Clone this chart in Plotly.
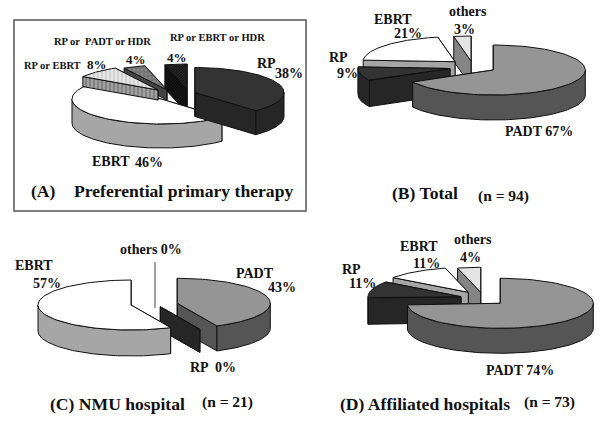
import numpy as np
import plotly.graph_objects as go

# percent of patients per therapy
a_labels = ["RP", "EBRT", "RP or EBRT", "RP or PADT or HDR", "RP or EBRT or HDR"]
a_values = [38, 46, 8, 4, 4]
b_labels = ["PADT", "RP", "EBRT", "others"]
b_values = [67, 9, 21, 3]
c_labels = ["PADT", "RP", "EBRT", "others"]
c_values = [43, 0, 57, 0]
d_labels = ["PADT", "RP", "EBRT", "others"]
d_values = [74, 11, 11, 4]

# colours
PADT = dict(top="#959595", side="#555555")
RP = dict(top="#333333", side="#262626")
EBRT = dict(top="#ffffff", side="#a6a6a6")
OTHERS = dict(top="#e4e4e4", side="#858585")

fig = go.Figure()


def add_poly(x, y, color, pattern=None):
    fig.add_trace(go.Scatter(
        x=x, y=y, mode="lines", fill="toself", fillcolor=color,
        fillpattern=pattern, line=dict(color="#111111", width=1),
        showlegend=False, hoverinfo="skip"))


def add_wedge(center, start, end, rx, ry, depth, style):
    cx, cy = center
    t = np.radians(np.linspace(start, end, 80))
    ax = cx + rx * np.sin(t)
    ay = cy - ry * np.cos(t)

    # the two cut faces
    for i in (-1, 0):
        add_poly([cx, ax[i], ax[i], cx, cx], [cy, ay[i], ay[i] + depth, cy + depth, cy],
                 style["side"], style.get("side_pattern"))

    # outer rim, only the part facing us
    lo, hi = max(start, 90), min(end, 270)
    if lo < hi:
        s = np.radians(np.linspace(lo, hi, 80))
        sx = cx + rx * np.sin(s)
        sy = cy - ry * np.cos(s)
        add_poly(list(sx) + list(sx[::-1]) + [sx[0]],
                 list(sy) + list(sy[::-1] + depth) + [sy[0]],
                 style.get("rim", style["side"]), style.get("side_pattern"))

    # top face
    if end > start:
        add_poly([cx] + list(ax) + [cx], [cy] + list(ay) + [cy],
                 style["top"], style.get("top_pattern"))


def add_pie(values, centers, styles, order, rx, ry, depths):
    edges = np.cumsum([0] + values) * 3.6
    for i in order:
        add_wedge(centers[i], edges[i], edges[i + 1], rx, ry, depths[i], styles[i])


# (A)
a_styles = [
    RP,
    EBRT,
    dict(top="#d8d8d8", side="#8c8c8c",
         top_pattern=dict(shape="|", fgcolor="#b4b4b4", bgcolor="#e6e6e6", size=4, solidity=0.4),
         side_pattern=dict(shape="|", fgcolor="#555555", bgcolor="#a0a0a0", size=4, solidity=0.4)),
    dict(top="#8a8a8a", side="#444444",
         top_pattern=dict(shape=".", fgcolor="#9c9c9c", bgcolor="#747474", size=4, solidity=0.3)),
    dict(top="#222222", side="#111111",
         top_pattern=dict(shape="x", fgcolor="#8c8c8c", bgcolor="#111111", size=2, solidity=0.3),
         side_pattern=dict(shape="x", fgcolor="#4c4c4c", bgcolor="#0a0a0a", size=2, solidity=0.3)),
]
add_pie(a_values, [(195, 92.5), (161, 99), (158, 90), (167, 90), (187, 89)], a_styles,
        [4, 3, 1, 2, 0], 89, 25, [24, 24, 10, 10, 24])

# (B)
add_pie(b_values, [(493.3, 70), (450, 68.5), (455, 61.7), (471, 61)], [PADT, RP, EBRT, OTHERS],
        [3, 2, 1, 0], 92, 25, [25, 26, 25, 25])

# (C)
add_pie(c_values, [(177.3, 303.3), (160.3, 306.7), (131, 305), (155, 307)], [PADT, RP, EBRT, OTHERS],
        [0, 1, 2], 93, 25, [25, 23, 26, 25])
# leader line of the 0% "others" slice
fig.add_trace(go.Scatter(x=[155, 155], y=[262, 308], mode="lines", line=dict(color="#808080", width=1.5),
                         showlegend=False, hoverinfo="skip"))

# (D)
add_pie(d_values, [(500.3, 303.3), (461, 296.7), (468.3, 292.3), (480.7, 292.3)], [PADT, RP, EBRT, OTHERS],
        [3, 2, 1, 0], 93, 25, [25, 26, 25, 25])


def label(x, y, text, size=14):
    fig.add_annotation(x=x, y=y, text=f"<b>{text}</b>", showarrow=False,
                       font=dict(family="Liberation Serif", size=size, color="#111111"),
                       xanchor="center", yanchor="middle")


# (A) labels
label(102, 41, "RP or  PADT or HDR", 10.5)
label(217, 37, "RP or EBRT or HDR", 10.5)
label(52, 65, "RP or EBRT", 10.5)
label(97, 64, "8%", 13)
label(136, 59, "4%", 13)
label(177, 57, "4%", 13)
label(266, 63, "RP")
label(289, 73, "38%")
label(111, 161, "EBRT")
label(149, 162, "46%")
label(43, 191, "(A)", 17.6)
label(183, 191, "Preferential primary therapy", 17.6)

# (B) labels
label(393, 19, "EBRT")
label(408, 33, "21%")
label(468, 11, "others")
label(464, 29, "3%")
label(338, 57, "RP")
label(347, 73, "9%")
label(539, 131, "PADT 67%")
label(425, 193, "(B) Total", 17.6)
label(503, 196, "(n = 94)", 15.5)

# (C) labels
label(151, 249, "others 0%")
label(34, 265, "EBRT")
label(47, 283, "57%")
label(255, 273, "PADT")
label(282, 287, "43%")
label(213, 367, "RP  0%")
label(117, 404, "(C) NMU hospital", 17.6)
label(227, 402, "(n = 21)", 15.5)

# (D) labels
label(473, 239, "others")
label(470, 257, "4%")
label(419, 246, "EBRT")
label(426, 263, "11%")
label(351, 269, "RP")
label(362, 283, "11%")
label(520, 370, "PADT 74%")
label(425, 404, "(D) Affiliated hospitals", 17.6)
label(549, 402, "(n = 73)", 15.5)

# frame round panel (A)
fig.add_shape(type="rect", x0=14, y0=20, x1=306, y1=211, line=dict(color="#555555", width=1.5))

fig.update_layout(
    width=600, height=425, margin=dict(l=0, r=0, t=0, b=0),
    paper_bgcolor="white", plot_bgcolor="white", showlegend=False,
    xaxis=dict(range=[0, 600], visible=False, fixedrange=True),
    yaxis=dict(range=[425, 0], visible=False, fixedrange=True),
)
# page margin would push the figure 8px off
fig.write_html("out.html", config=dict(displayModeBar=False),
               post_script="document.body.style.margin='0';")
